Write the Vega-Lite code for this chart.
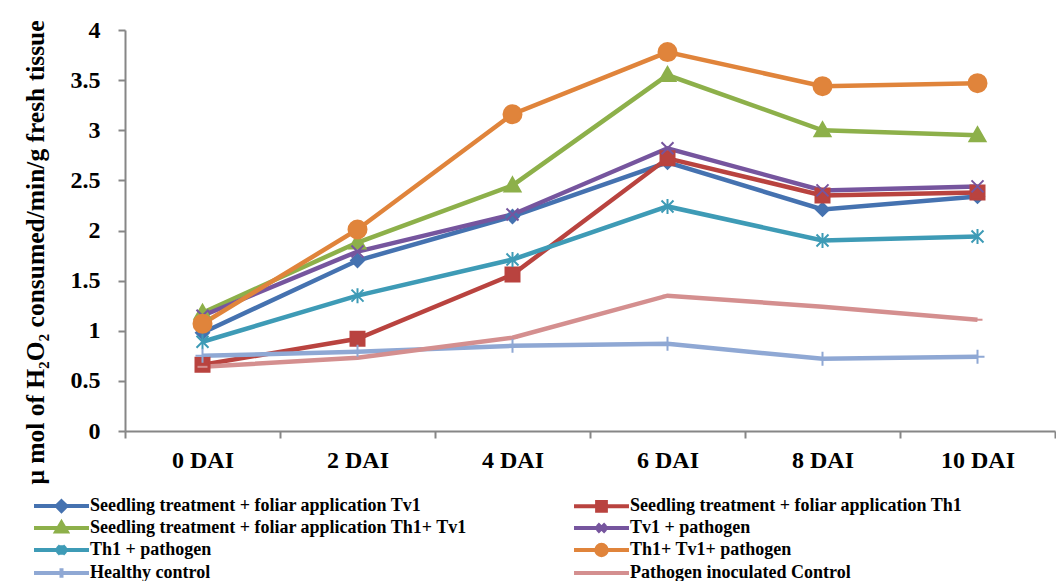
{
  "$schema": "https://vega.github.io/schema/vega-lite/v6.json",
  "width": 930,
  "height": 401,
  "autosize": {"type": "none"},
  "padding": {"left": 125, "top": 30, "right": 1, "bottom": 150},
  "background": "white",
  "config": {
    "view": {"stroke": null},
    "font": "Liberation Serif",
    "axis": {
      "domainColor": "#868686",
      "domainWidth": 2,
      "tickColor": "#868686",
      "tickWidth": 2,
      "tickSize": 7,
      "grid": false,
      "labelFont": "Liberation Serif",
      "labelFontWeight": "bold",
      "labelFontSize": 24,
      "labelColor": "#000000"
    }
  },
  "data": {
    "values": [
      {"series": "Seedling treatment + foliar application Tv1", "day": "0 DAI", "value": 0.98},
      {"series": "Seedling treatment + foliar application Tv1", "day": "2 DAI", "value": 1.70},
      {"series": "Seedling treatment + foliar application Tv1", "day": "4 DAI", "value": 2.14},
      {"series": "Seedling treatment + foliar application Tv1", "day": "6 DAI", "value": 2.68},
      {"series": "Seedling treatment + foliar application Tv1", "day": "8 DAI", "value": 2.21},
      {"series": "Seedling treatment + foliar application Tv1", "day": "10 DAI", "value": 2.34},
      {"series": "Seedling treatment + foliar application Th1", "day": "0 DAI", "value": 0.66},
      {"series": "Seedling treatment + foliar application Th1", "day": "2 DAI", "value": 0.92},
      {"series": "Seedling treatment + foliar application Th1", "day": "4 DAI", "value": 1.56},
      {"series": "Seedling treatment + foliar application Th1", "day": "6 DAI", "value": 2.72},
      {"series": "Seedling treatment + foliar application Th1", "day": "8 DAI", "value": 2.35},
      {"series": "Seedling treatment + foliar application Th1", "day": "10 DAI", "value": 2.38},
      {"series": "Seedling treatment + foliar application Th1+ Tv1", "day": "0 DAI", "value": 1.18},
      {"series": "Seedling treatment + foliar application Th1+ Tv1", "day": "2 DAI", "value": 1.88},
      {"series": "Seedling treatment + foliar application Th1+ Tv1", "day": "4 DAI", "value": 2.45},
      {"series": "Seedling treatment + foliar application Th1+ Tv1", "day": "6 DAI", "value": 3.55},
      {"series": "Seedling treatment + foliar application Th1+ Tv1", "day": "8 DAI", "value": 3.00},
      {"series": "Seedling treatment + foliar application Th1+ Tv1", "day": "10 DAI", "value": 2.95},
      {"series": "Tv1 + pathogen", "day": "0 DAI", "value": 1.15},
      {"series": "Tv1 + pathogen", "day": "2 DAI", "value": 1.79},
      {"series": "Tv1 + pathogen", "day": "4 DAI", "value": 2.16},
      {"series": "Tv1 + pathogen", "day": "6 DAI", "value": 2.82},
      {"series": "Tv1 + pathogen", "day": "8 DAI", "value": 2.40},
      {"series": "Tv1 + pathogen", "day": "10 DAI", "value": 2.44},
      {"series": "Th1 + pathogen", "day": "0 DAI", "value": 0.89},
      {"series": "Th1 + pathogen", "day": "2 DAI", "value": 1.35},
      {"series": "Th1 + pathogen", "day": "4 DAI", "value": 1.71},
      {"series": "Th1 + pathogen", "day": "6 DAI", "value": 2.24},
      {"series": "Th1 + pathogen", "day": "8 DAI", "value": 1.90},
      {"series": "Th1 + pathogen", "day": "10 DAI", "value": 1.94},
      {"series": "Th1+ Tv1+ pathogen", "day": "0 DAI", "value": 1.07},
      {"series": "Th1+ Tv1+ pathogen", "day": "2 DAI", "value": 2.01},
      {"series": "Th1+ Tv1+ pathogen", "day": "4 DAI", "value": 3.16},
      {"series": "Th1+ Tv1+ pathogen", "day": "6 DAI", "value": 3.78},
      {"series": "Th1+ Tv1+ pathogen", "day": "8 DAI", "value": 3.44},
      {"series": "Th1+ Tv1+ pathogen", "day": "10 DAI", "value": 3.47},
      {"series": "Healthy control", "day": "0 DAI", "value": 0.75},
      {"series": "Healthy control", "day": "2 DAI", "value": 0.79},
      {"series": "Healthy control", "day": "4 DAI", "value": 0.85},
      {"series": "Healthy control", "day": "6 DAI", "value": 0.87},
      {"series": "Healthy control", "day": "8 DAI", "value": 0.72},
      {"series": "Healthy control", "day": "10 DAI", "value": 0.74},
      {"series": "Pathogen inoculated Control", "day": "0 DAI", "value": 0.64},
      {"series": "Pathogen inoculated Control", "day": "2 DAI", "value": 0.73},
      {"series": "Pathogen inoculated Control", "day": "4 DAI", "value": 0.93},
      {"series": "Pathogen inoculated Control", "day": "6 DAI", "value": 1.35},
      {"series": "Pathogen inoculated Control", "day": "8 DAI", "value": 1.24},
      {"series": "Pathogen inoculated Control", "day": "10 DAI", "value": 1.11}
    ]
  },
  "encoding": {
    "x": {
      "field": "day",
      "type": "nominal",
      "bandPosition": 0.5,
      "sort": ["0 DAI", "2 DAI", "4 DAI", "6 DAI", "8 DAI", "10 DAI"],
      "scale": {"type": "band", "paddingInner": 0, "paddingOuter": 0},
      "axis": {"title": null, "labelAngle": 0, "tickBand": "extent", "labelPadding": 10}
    },
    "y": {
      "field": "value",
      "type": "quantitative",
      "scale": {"domain": [0, 4], "nice": false},
      "axis": {
        "values": [0, 0.5, 1, 1.5, 2, 2.5, 3, 3.5, 4],
        "format": "~g",
        "labelPadding": 18,
        "title": "μ mol of H₂O₂ consumed/min/g fresh tissue",
        "titleFont": "Liberation Serif",
        "titleFontSize": 25.5,
        "titleFontWeight": "bold",
        "titleColor": "#000000",
        "titleAngle": 270,
        "titleBaseline": "middle",
        "titleX": -90,
        "titleY": 222
      }
    }
  },
  "layer": [
    {
      "mark": {"type": "line", "strokeWidth": 4.5},
      "encoding": {
        "color": {
          "field": "series",
          "type": "nominal",
          "scale": {
            "domain": ["Seedling treatment + foliar application Tv1", "Seedling treatment + foliar application Th1", "Seedling treatment + foliar application Th1+ Tv1", "Tv1 + pathogen", "Th1 + pathogen", "Th1+ Tv1+ pathogen", "Healthy control", "Pathogen inoculated Control"],
            "range": ["#4572B0", "#B9433F", "#8DB04A", "#76559E", "#3E9BB6", "#E0843B", "#8FA8D4", "#D48F8F"]
          },
          "legend": {
            "title": null,
            "orient": "none",
            "legendX": -72.5,
            "legendY": 467,
            "direction": "horizontal",
            "columns": 2,
            "columnPadding": 98,
            "rowPadding": -8.3,
            "padding": 0,
            "labelFont": "Liberation Serif",
            "labelFontSize": 18,
            "labelFontWeight": "bold",
            "labelColor": "#000000",
            "labelOffset": 19.5,
            "labelLimit": 0,
            "symbolSize": 144,
            "symbolStrokeWidth": 4,
            "symbolOpacity": 1,
            "encode": {
              "symbols": {
                "update": {
                  "shape": {"signal": "{'Seedling treatment + foliar application Tv1': 'M-4.58,0H4.58M0,-0.8L0.8,0L0,0.8L-0.8,0Z', 'Seedling treatment + foliar application Th1': 'M-4.58,0H4.58M-0.73,-0.73H0.73V0.73H-0.73Z', 'Seedling treatment + foliar application Th1+ Tv1': 'M-4.58,0H4.58M0,-0.87L0.87,0.6H-0.87Z', 'Tv1 + pathogen': 'M-4.58,0H4.58M-0.67,-0.67L0.67,0.67M-0.67,0.67L0.67,-0.67', 'Th1 + pathogen': 'M-4.58,0H4.58M-0.67,-0.67L0.67,0.67M-0.67,0.67L0.67,-0.67M0,-0.8V0.8', 'Th1+ Tv1+ pathogen': 'M-4.58,0H4.58M-0.87,0A0.87,0.87,0,1,0,0.87,0A0.87,0.87,0,1,0,-0.87,0Z', 'Healthy control': 'M-4.58,0H4.58M0,-0.8V0.8', 'Pathogen inoculated Control': 'M-4.58,0H4.58'}[datum.value]"},
                  "strokeWidth": {"value": 4}
                }
              }
            }
          }
        }
      }
    },
    {
      "mark": {"type": "point", "filled": true, "size": 100, "strokeWidth": 2, "opacity": 1},
      "encoding": {
        "color": {"field": "series", "type": "nominal"},
        "stroke": {
          "field": "series",
          "type": "nominal",
          "scale": {
            "domain": ["Pathogen inoculated Control", "Healthy control", "Th1+ Tv1+ pathogen", "Th1 + pathogen", "Tv1 + pathogen", "Seedling treatment + foliar application Th1+ Tv1", "Seedling treatment + foliar application Th1", "Seedling treatment + foliar application Tv1"],
            "range": ["#D48F8F", "#8FA8D4", "#E0843B", "#3E9BB6", "#76559E", "#8DB04A", "#B9433F", "#4572B0"]
          },
          "legend": null
        },
        "shape": {
          "field": "series",
          "type": "nominal",
          "scale": {
            "domain": ["Pathogen inoculated Control", "Healthy control", "Th1+ Tv1+ pathogen", "Th1 + pathogen", "Tv1 + pathogen", "Seedling treatment + foliar application Th1+ Tv1", "Seedling treatment + foliar application Th1", "Seedling treatment + foliar application Tv1"],
            "range": [
              "M-1,0H1",
              "M0,-1.4V1.4M-1.4,0H1.4",
              "M-1.8,0A1.8,1.8,0,1,0,1.8,0A1.8,1.8,0,1,0,-1.8,0Z",
              "M-1.2,-1.2L1.2,1.2M-1.2,1.2L1.2,-1.2M0,-1.5V1.5",
              "M-1.2,-1.2L1.2,1.2M-1.2,1.2L1.2,-1.2",
              "M0,-1.6L1.6,1.2H-1.6Z",
              "M-1.4,-1.4H1.4V1.4H-1.4Z",
              "M0,-1.3L1.3,0L0,1.3L-1.3,0Z"
            ]
          },
          "legend": null
        }
      }
    }
  ]
}
